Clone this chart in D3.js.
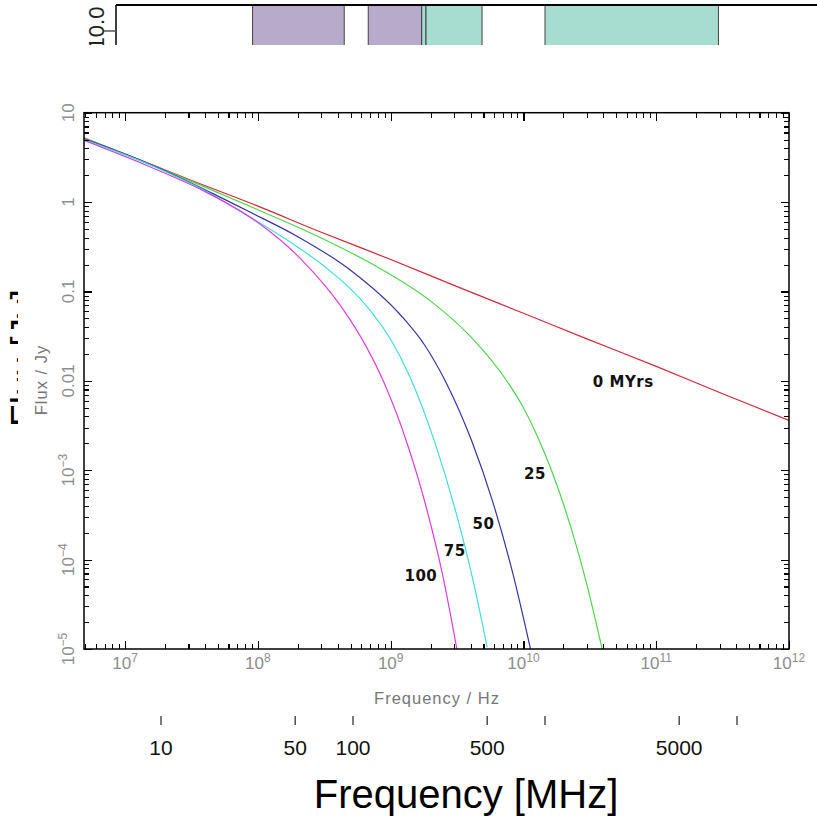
<!DOCTYPE html>
<meta charset="utf-8">
<style>
  body { margin: 0; background: #fff; }
  svg { display: block; }
</style>
<svg width="817" height="817"></svg>
<script src="https://cdn.jsdelivr.net/npm/d3@7/dist/d3.min.js"></script>
<script>
  // outer chart: observing bands in MHz
  var purpleBands = [[30, 90], [120, 228]]
  var tealBands = [[228, 240], [240, 470], [1000, 8000]]
  var mhzTicks = [10, 50, 100, 500, 1000, 5000, 10000]
  var mhzLabels = [10, 50, 100, 500, 5000]
  var outerYTicks = [10]

  // pasted plot: aged spectra, frequency in Hz, flux in Jy
  var freq0 = [4.9e6, 1e7, 3e7, 1e8, 3e8, 1e9, 3e9, 1e10, 3e10, 1e11, 3e11, 1e12]
  var flux0 = [5.25, 3.45, 1.8, 0.9, 0.46, 0.228, 0.117, 0.057, 0.0295, 0.0145, 0.0074, 0.0036]

  var freq25 = [4.9e6, 1.55e7, 4e7, 1e8, 3e8, 8e8, 2e9, 4e9, 7.46e9, 1e10, 1.29e10, 1.99e10, 2.98e10, 3.98e10]
  var flux25 = [5.2, 2.64, 1.47, 0.82, 0.396, 0.187, 0.078, 0.0313, 0.0101, 5e-3, 2.3e-3, 4.3e-4, 5.5e-5, 9e-6]

  var freq50 = [4.9e6, 1.55e7, 4e7, 8.7e7, 2e8, 4.96e8, 1.2e9, 1.8e9, 2.64e9, 4.06e9, 5.92e9, 8.36e9, 1.13e10]
  var flux50 = [5.1, 2.64, 1.37, 0.774, 0.41, 0.174, 0.0535, 0.0252, 9.3e-3, 2.16e-3, 4.26e-4, 6.8e-5, 1e-5]

  var freq75 = [4.9e6, 1.55e7, 4e7, 8.7e7, 2e8, 3.3e8, 7e8, 1e9, 1.4e9, 2.15e9, 3.04e9, 4.18e9, 5.33e9]
  var flux75 = [5.0, 2.6, 1.34, 0.68, 0.313, 0.182, 0.0615, 0.029, 0.011, 2.05e-3, 3.77e-4, 5.8e-5, 1.05e-5]

  var freq100 = [4.9e6, 1.55e7, 4e7, 1e8, 2.1e8, 3.2e8, 4.5e8, 6.5e8, 8.8e8, 1.36e9, 1.86e9, 2.48e9, 3.15e9]
  var flux100 = [4.9, 2.47, 1.31, 0.59, 0.232, 0.116, 0.0596, 0.0246, 9.95e-3, 1.81e-3, 3.78e-4, 6.4e-5, 1e-5]

  var ageLabels = ['0 MYrs', '25', '50', '75', '100']
  var labelFreq = [3.33e10, 1.01e10, 4.14e9, 2.51e9, 1.27e9]
  var labelFlux = [8.55e-3, 8.0e-4, 2.19e-4, 1.10e-4, 5.78e-5]

  var hzExp = [7, 8, 9, 10, 11, 12]
  var jyTicks = [10, 1, 0.1, 0.01, 1e-3, 1e-4, 1e-5]
  var jyBase = ['10', '1', '0.1', '0.01', '10', '10', '10']
  var jyExp = ['', '', '', '', '\u22123', '\u22124', '\u22125']

  var svg = d3.select('svg')

  // ---------- outer chart (mostly covered by the pasted plot)
  var mhz = d3.scaleLog().domain([10, 10000]).range([161, 737])
  var outerY = d3.scaleLog().domain([0.0014, 14]).range([716, 5])
  var outer = svg.append('g').attr('font-family', 'Liberation Sans, Arial, sans-serif')

  var bands = purpleBands.map(b => ({ b: b, c: '#b8aacb' }))
    .concat(tealBands.map(b => ({ b: b, c: '#a7dcd0' })))
  outer.selectAll('rect.band').data(bands).enter().append('rect')
    .attr('class', 'band')
    .attr('x', d => mhz(d.b[0]))
    .attr('width', d => mhz(d.b[1]) - mhz(d.b[0]))
    .attr('y', outerY.range()[1])
    .attr('height', 700)
    .attr('fill', d => d.c)
    .attr('stroke', '#333')
    .attr('stroke-width', 0.9)

  // frame
  outer.append('line').attr('x1', 116).attr('x2', 817).attr('y1', 5).attr('y2', 5)
    .attr('stroke', '#000').attr('stroke-width', 2)
  outer.append('line').attr('x1', 116).attr('x2', 116).attr('y1', 5).attr('y2', 710)
    .attr('stroke', '#000').attr('stroke-width', 1.5)

  outerYTicks.forEach(v => {
    outer.append('line').attr('x1', 103).attr('x2', 116)
      .attr('y1', outerY(v)).attr('y2', outerY(v))
      .attr('stroke', '#555').attr('stroke-width', 1.5)
    outer.append('text')
      .attr('transform', 'translate(104,' + (outerY(v) - 3) + ') rotate(-90)')
      .attr('text-anchor', 'middle')
      .attr('font-size', 22)
      .attr('fill', '#222')
      .text(d3.format('.1f')(v))
  })

  outer.selectAll('line.mt').data(mhzTicks).enter().append('line')
    .attr('x1', d => mhz(d)).attr('x2', d => mhz(d))
    .attr('y1', 716).attr('y2', 725)
    .attr('stroke', '#333').attr('stroke-width', 1.3)
  outer.selectAll('text.ml').data(mhzLabels).enter().append('text')
    .attr('x', d => mhz(d)).attr('y', 755)
    .attr('text-anchor', 'middle')
    .attr('font-size', 21)
    .attr('fill', '#111')
    .text(d => d)
  outer.append('text')
    .attr('x', 466).attr('y', 808)
    .attr('text-anchor', 'middle')
    .attr('font-size', 40)
    .attr('fill', '#000')
    .text('Frequency [MHz]')
  outer.append('text')
    .attr('transform', 'translate(37,358) rotate(-90)')
    .attr('text-anchor', 'middle')
    .attr('font-size', 37)
    .attr('fill', '#000')
    .text('Flux [Jy]')

  // ---------- pasted spectral ageing plot
  svg.append('rect').attr('x', 18).attr('y', 45).attr('width', 799).attr('height', 671)
    .attr('fill', '#fff')

  var L = 84, R = 789, T = 112.7, B = 649
  var x = d3.scaleLog().domain([4.9e6, 1e12]).range([L, R])
  var y = d3.scaleLog().domain([1e-5, 10]).range([B, T])
  var plot = svg.append('g').attr('font-family', 'Liberation Sans, Arial, sans-serif')

  svg.append('clipPath').attr('id', 'clip')
    .append('rect').attr('x', L).attr('y', T).attr('width', R - L).attr('height', B - T)

  var series = [
    { f: freq0, s: flux0, c: '#d42838' },
    { f: freq25, s: flux25, c: '#4cd64c' },
    { f: freq50, s: flux50, c: '#3434a8' },
    { f: freq75, s: flux75, c: '#3cdede' },
    { f: freq100, s: flux100, c: '#dc3cdc' }
  ]
  var line = d3.line().x(d => x(d[0])).y(d => y(d[1])).curve(d3.curveMonotoneX)
  plot.append('g').attr('clip-path', 'url(#clip)')
    .selectAll('path').data(series).enter().append('path')
    .attr('d', d => line(d.f.map((v, i) => [v, d.s[i]])))
    .attr('fill', 'none')
    .attr('stroke', d => d.c)
    .attr('stroke-width', 1.2)

  function split(scale) {
    var all = scale.ticks()
    var major = all.filter(v => Math.abs(Math.log10(v) - Math.round(Math.log10(v))) < 1e-6)
    var minor = all.filter(v => major.indexOf(v) < 0)
    return [major, minor]
  }
  var xt = split(x), yt = split(y)

  function ticks(g, axis, vals, size) {
    g.call(axis.tickValues(vals).tickSize(size).tickSizeOuter(0).tickFormat(''))
    g.select('.domain').remove()
    g.selectAll('line').attr('stroke-width', 1.1).attr('shape-rendering', 'crispEdges')
  }
  ;[[xt[0], 8], [xt[1], 5]].forEach(p => {
    ticks(plot.append('g').attr('transform', 'translate(0,' + B + ')'), d3.axisBottom(x), p[0], -p[1])
    ticks(plot.append('g').attr('transform', 'translate(0,' + T + ')'), d3.axisTop(x), p[0], -p[1])
  })
  ;[[yt[0], 8], [yt[1], 5]].forEach(p => {
    ticks(plot.append('g').attr('transform', 'translate(' + L + ',0)'), d3.axisLeft(y), p[0], -p[1])
    ticks(plot.append('g').attr('transform', 'translate(' + R + ',0)'), d3.axisRight(y), p[0], -p[1])
  })

  plot.append('rect').attr('x', L).attr('y', T).attr('width', R - L).attr('height', B - T)
    .attr('fill', 'none').attr('stroke', '#000').attr('stroke-width', 1.5)

  // tick labels
  hzExp.forEach(e => {
    var t = plot.append('text').attr('x', x(Math.pow(10, e))).attr('y', 669)
      .attr('text-anchor', 'middle').attr('font-size', 17).attr('fill', '#8c8c8c')
    t.append('tspan').text('10')
    t.append('tspan').attr('dy', -7).attr('font-size', 12).text(e)
  })
  jyTicks.forEach((v, i) => {
    var t = plot.append('text')
      .attr('transform', 'translate(74,' + y(v) + ') rotate(-90)')
      .attr('text-anchor', 'middle').attr('font-size', 17).attr('fill', '#8c8c8c')
    t.append('tspan').text(jyBase[i])
    if (jyExp[i]) t.append('tspan').attr('dy', -7).attr('font-size', 12).text(jyExp[i])
  })

  plot.append('text').attr('x', 437).attr('y', 704)
    .attr('text-anchor', 'middle').attr('font-size', 16.5).attr('letter-spacing', 1)
    .attr('fill', '#777').text('Frequency / Hz')
  plot.append('text').attr('transform', 'translate(47,380) rotate(-90)')
    .attr('text-anchor', 'middle').attr('font-size', 16.5).attr('letter-spacing', 1)
    .attr('fill', '#777').text('Flux / Jy')

  // curve labels
  plot.selectAll('text.age').data(ageLabels).enter().append('text')
    .attr('class', 'age')
    .attr('x', (d, i) => x(labelFreq[i]))
    .attr('y', (d, i) => y(labelFlux[i]))
    .attr('font-family', 'DejaVu Sans, Verdana, sans-serif')
    .attr('font-size', 15)
    .attr('font-weight', 'bold')
    .attr('letter-spacing', 0.5)
    .attr('fill', '#111')
    .text(d => d)
</script>
